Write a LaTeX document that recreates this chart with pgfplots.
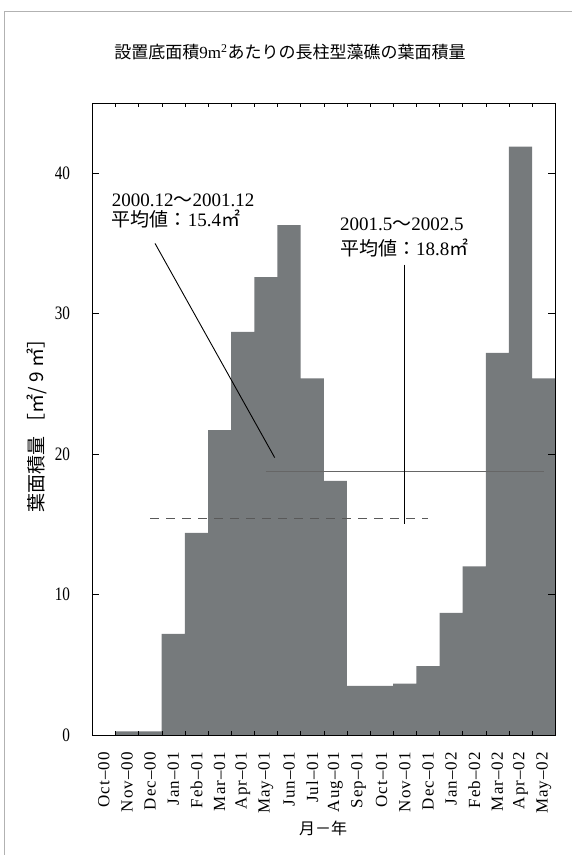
\documentclass[border=0pt]{standalone}
\usepackage{pgfplots}
\pgfplotsset{compat=1.18}
\usepackage{fontspec}
\setmainfont{Liberation Serif}
\newfontfamily\jp{Noto Sans CJK JP}
\newfontfamily\xlab{Liberation Serif}[LetterSpace=6]
\newfontfamily\ynum{Liberation Serif}[FakeStretch=0.8]
\definecolor{barc}{RGB}{118,122,124}
\pgfplotstableread{
x y
0 0
1 0.25
2 0.25
3 7.2
4 14.4
5 21.7
6 28.7
7 32.6
8 36.3
9 25.4
10 18.1
11 3.5
12 3.5
13 3.65
14 4.9
15 8.7
16 12.0
17 27.2
18 41.9
19 25.4
}\leafdata
\begin{document}
\begin{tikzpicture}
\path[use as bounding box] (-92.3pt,-120pt) rectangle (478.7pt,735pt);
\begin{axis}[
  at={(0pt,0pt)}, anchor=south west,
  scale only axis, width=463pt, height=632pt,
  xmin=-0.5, xmax=19.5, ymin=0, ymax=45,
  axis on top,
  axis line style={line width=1pt},
  tick align=inside,
  xtick={0,...,19},
  xticklabels={Oct\textendash00,Nov\textendash00,Dec\textendash00,Jan\textendash01,Feb\textendash01,Mar\textendash01,Apr\textendash01,May\textendash01,Jun\textendash01,Jul\textendash01,Aug\textendash01,Sep\textendash01,Oct\textendash01,Nov\textendash01,Dec\textendash01,Jan\textendash02,Feb\textendash02,Mar\textendash02,Apr\textendash02,May\textendash02},
  major x tick style={draw=none},
  minor xtick={0.5,1.5,...,18.5},
  minor tick length=4pt,
  minor x tick style={black,line width=0.4pt},
  ytick={0,10,20,30,40}, yticklabels={0,10,20,30,40},
  major tick length=7pt,
  major y tick style={black,line width=0.5pt},
  xticklabel style={font=\xlab\fontsize{17}{17}\selectfont, rotate=90, anchor=east, inner sep=0pt},
  xticklabel shift=17pt,
  yticklabel style={font=\ynum\fontsize{19}{19}\selectfont, anchor=east, inner sep=0pt},
  yticklabel shift=22pt,
]
\addplot[ybar, bar width=1, fill=barc, draw=none] table[x=x,y=y] {\leafdata};
\addplot[black!65, line width=0.8pt, dash pattern=on 9pt off 7pt, no marks] coordinates {(2,15.4) (14,15.4)};
\addplot[black!60, line width=0.6pt, no marks] coordinates {(7,18.8) (19,18.8)};
\addplot[black, line width=0.9pt, no marks] coordinates {(2.21,35.0) (7.38,19.75)};
\addplot[black, line width=0.9pt, no marks] coordinates {(13.0,33.5) (13.0,15.0)};
\end{axis}
% frame
\draw[gray!60, line width=0.8pt] (-87.9pt,-125pt) -- (-87.9pt,724pt) -- (485pt,724pt);
% title
\node[font=\fontsize{17}{17}\selectfont, inner sep=0pt] at (197.7pt,683pt) {{\jp 設置底面積}9m\textsuperscript{2}{\jp あたりの長柱型藻礁の葉面積量}};
% y label
\node[rotate=90, font=\jp\fontsize{19}{19}\selectfont, inner sep=0pt] at (-55.3pt,314pt) {葉面積量\ ［㎡/ 9 ㎡］};
% x label
\node[font=\jp\fontsize{16}{16}\selectfont, inner sep=0pt] at (230.7pt,-93pt) {月－年};
% annotations
\node[anchor=west, font=\fontsize{19}{19}\selectfont, inner sep=0pt] at (19.4pt,535pt) {2000.12{\jp ～}2001.12};
\node[anchor=west, font=\fontsize{19}{19}\selectfont, inner sep=0pt] at (19.4pt,515.5pt) {{\jp 平均値：}15.4{\jp ㎡}};
\node[anchor=west, font=\fontsize{19}{19}\selectfont, inner sep=0pt] at (247.7pt,511pt) {2001.5{\jp ～}2002.5};
\node[anchor=west, font=\fontsize{19}{19}\selectfont, inner sep=0pt] at (247.7pt,487pt) {{\jp 平均値：}18.8{\jp ㎡}};
\end{tikzpicture}
\end{document}
